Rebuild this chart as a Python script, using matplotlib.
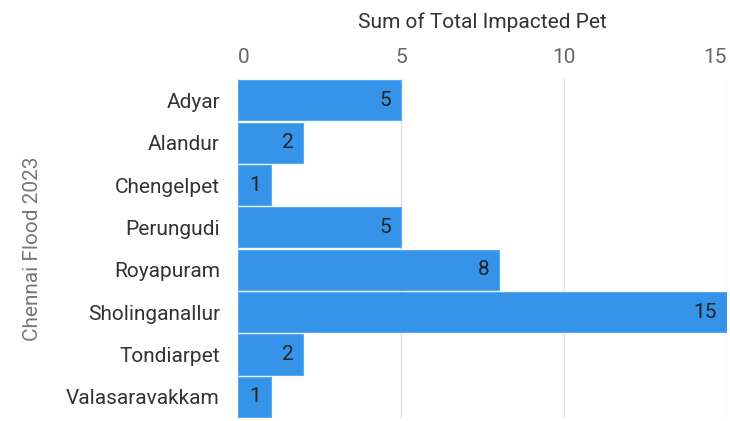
import matplotlib
matplotlib.use("Agg")
import matplotlib.pyplot as plt

plt.rcParams['font.family'] = ['Roboto', 'DejaVu Sans']

categories = ["Adyar", "Alandur", "Chengelpet", "Perungudi", "Royapuram",
              "Sholinganallur", "Tondiarpet", "Valasaravakkam"]
values = [5, 2, 1, 5, 8, 15, 2, 1]
x_ticks = [0, 5, 10, 15]

FS = 15

fig = plt.figure(figsize=(7.30, 4.21), dpi=100)
ax = fig.add_axes([0.326, 0.0071, 0.670, 0.805])

y = list(range(len(categories)))
bars = ax.barh(y, values, height=0.95, color="#3594ea", edgecolor="#5aaaf0", linewidth=0.8, zorder=3)
ax.set_ylim(len(categories) - 0.5, -0.5)
ax.set_xlim(0, 15)
ax.set_xticks(x_ticks)
ax.set_yticks(y)
ax.set_yticklabels(categories, fontsize=FS, color="#333333")
ax.xaxis.tick_top()
ax.xaxis.set_label_position("top")
ax.tick_params(axis="x", length=0, pad=9, labelsize=FS, labelcolor="#666666")
ax.tick_params(axis="y", length=0, pad=13)
xl = ax.get_xticklabels()
xl[0].set_horizontalalignment("left")
xl[-1].set_horizontalalignment("right")
ax.grid(axis="x", color="#dde1e6", linewidth=1, zorder=0)
for s in ax.spines.values():
    s.set_visible(False)

ax.set_xlabel("Sum of Total Impacted Pet", fontsize=FS, color="#333333", labelpad=14)
fig.text(0.045, 0.41, "Chennai Flood 2023", rotation=90, fontsize=FS, color="#777777",
         ha="center", va="center")

for b, v in zip(bars, values):
    ax.text(v - 0.3, b.get_y() + b.get_height() / 2, str(v), ha="right", va="center",
            fontsize=FS, color="#222222", zorder=4)

fig.savefig("out.png", dpi=100, facecolor="white")
